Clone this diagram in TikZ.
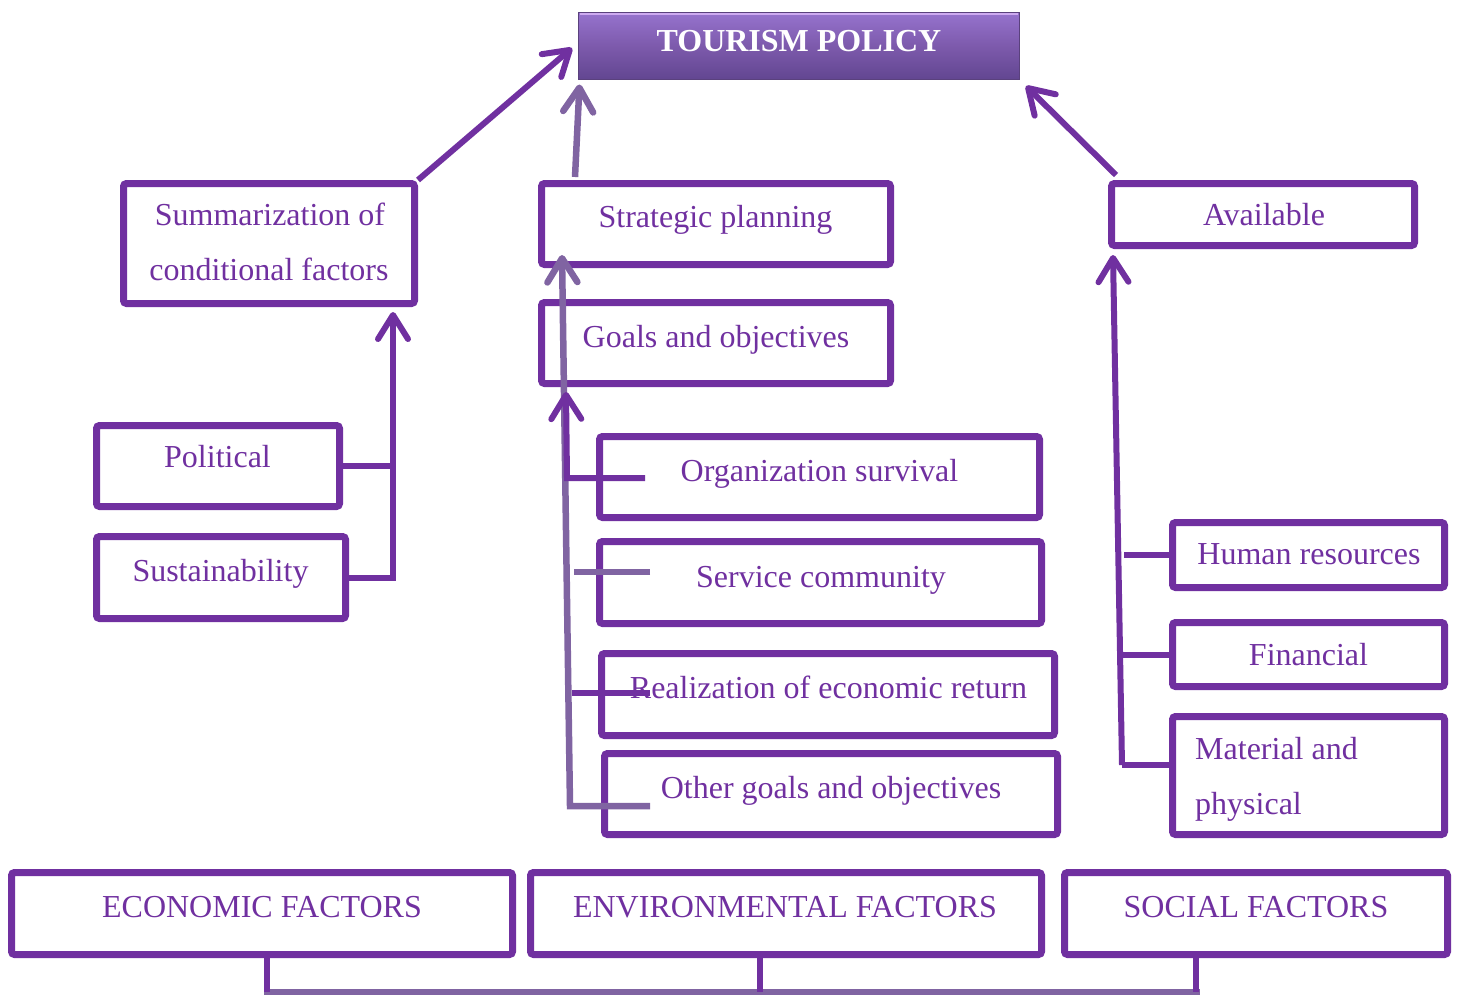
\documentclass[tikz,border=0pt]{standalone}
\usepackage{fontspec}
\setmainfont{Liberation Serif}
\usetikzlibrary{arrows.meta}
\definecolor{dpurp}{RGB}{112,48,160}
\definecolor{lav}{RGB}{128,100,162}
\definecolor{ttop}{RGB}{150,115,205}
\definecolor{tmid}{RGB}{125,90,172}
\definecolor{tbot}{RGB}{98,70,145}
\definecolor{tedge}{RGB}{90,65,125}
\definecolor{thi}{RGB}{205,170,240}
\begin{document}
\begin{tikzpicture}[x=1pt,y=-1pt,
  box/.style={draw=dpurp, line width=7pt, rounded corners=3pt, fill=white, inner sep=0pt},
  txt/.style={anchor=base, text=dpurp, font=\fontsize{32}{38}\selectfont, inner sep=0pt},
  darr/.style={draw=dpurp, line width=6pt, -{Straight Barb[length=24pt,width=30pt,round]}},
  larr/.style={draw=lav, line width=6.5pt, -{Straight Barb[length=24pt,width=30pt,round]}},
  dline/.style={draw=dpurp, line width=6pt},
  lline/.style={draw=lav, line width=6.5pt}]
\useasboundingbox (0,0) rectangle (1459,996);

% title
\node[draw=tedge, line width=1pt, top color=ttop, bottom color=tbot, middle color=tmid,
      minimum width=441pt, minimum height=67pt, inner sep=0pt] (tp) at (799,46) {};
\draw[thi, line width=2pt] ([xshift=2pt,yshift=-2pt]tp.north west) -- ([xshift=-2pt,yshift=-2pt]tp.north east);
\node[anchor=base, text=white, font=\fontsize{32}{38}\selectfont\bfseries, inner sep=0pt] (tpt) at (799,51) {TOURISM POLICY};

% boxes
\node[box, minimum width=291pt, minimum height=120pt] (sum) at (269,243.5) {};
\node[box, minimum width=349pt, minimum height=81pt] (sp) at (716,224) {};
\node[box, minimum width=349pt, minimum height=81pt] (go) at (716,343) {};
\node[box, minimum width=303pt, minimum height=62pt] (av) at (1263,214.5) {};
\node[box, minimum width=243pt, minimum height=81pt] (pol) at (218,466) {};
\node[box, minimum width=249pt, minimum height=82pt] (sus) at (221,577.5) {};
\node[box, minimum width=440pt, minimum height=81pt] (org) at (819.5,477) {};
\node[box, minimum width=442pt, minimum height=82pt] (ser) at (820.5,582.5) {};
\node[box, minimum width=453pt, minimum height=82pt] (rea) at (828,694.5) {};
\node[box, minimum width=453pt, minimum height=81pt] (oth) at (831,794) {};
\node[box, minimum width=272pt, minimum height=65pt] (hr) at (1308.5,555) {};
\node[box, minimum width=272pt, minimum height=64pt] (fin) at (1308.5,654.5) {};
\node[box, minimum width=272pt, minimum height=118pt] (mat) at (1308.5,775.5) {};
\node[box, minimum width=501pt, minimum height=82pt] (eco) at (262,913.5) {};
\node[box, minimum width=511pt, minimum height=82pt] (env) at (786,913.5) {};
\node[box, minimum width=383pt, minimum height=82pt] (soc) at (1256,913.5) {};

% texts
\node[txt] (sumt1) at (270,225) {Summarization of};
\node[txt] (sumt2) at (269,280) {conditional factors};
\node[txt] (spt) at (715.5,227) {Strategic planning};
\node[txt] (got) at (716,347) {Goals and objectives};
\node[txt] (avt) at (1264,225) {Available};
\node[txt] (polt) at (217.5,467) {Political};
\node[txt] (sust) at (220.5,581) {Sustainability};
\node[txt] (orgt) at (819.5,481) {Organization survival};
\node[txt] (sert) at (821,587) {Service community};
\node[txt] (reat) at (828.5,698) {Realization of economic return};
\node[txt] (otht) at (831,798) {Other goals and objectives};
\node[txt] (hrt) at (1309,564) {Human resources};
\node[txt] (fint) at (1308.5,665) {Financial};
\node[txt, anchor=base west] (matt1) at (1195,759) {Material and};
\node[txt, anchor=base west] (matt2) at (1195,814) {physical};
\node[txt] (ecot) at (262,917) {ECONOMIC FACTORS};
\node[txt] (envt) at (785,917) {ENVIRONMENTAL FACTORS};
\node[txt] (soct) at (1256,917) {SOCIAL FACTORS};

% junction coordinates
\coordinate (sumtip) at (393,312);
\coordinate (ltop) at (562,255);
\coordinate (lbot) at (570,806);
\coordinate (othin) at (650,806);
\coordinate (serin) at (650,572);
\coordinate (serj) at (574,572);
\coordinate (dtop) at (566,392);
\coordinate (orgin) at (645,478);
\coordinate (orgj) at (567,478);
\coordinate (reain) at (650,693);
\coordinate (reaj) at (572,693);
\coordinate (avtip) at (1113,255);
\coordinate (rbot) at (1122,765);
\coordinate (bl) at (264,992);
\coordinate (br) at (1200,992);

% top arrows
\draw[darr] (sum.north east) -- ([xshift=-6pt,yshift=-2pt]tp.west);
\draw[larr] ([xshift=37pt,yshift=3pt]sp.north west) -- ([xshift=1.5pt,yshift=-4.5pt]tp.south west);
\draw[darr] ([xshift=8pt,yshift=5pt]av.north west) -- ([xshift=6pt,yshift=-6pt]tp.south east);

% left
\draw[dline] (pol.east) -- (pol.east -| sumtip);
\draw[darr] (sus.east) -| (sumtip);

% middle
\draw[lline] (serin) -- (serj);
\draw[larr] (othin) -- (lbot) -- (ltop);
\draw[darr] (orgin) -- (orgj) -- (dtop);
\draw[dline] (reain) -- (reaj);

% right
\draw[darr] (rbot) -- (avtip);
\draw[dline] (hr.west) -- (hr.west -| 1124,0);
\draw[dline] (fin.west) -- (fin.west -| 1123,0);
\draw[dline] (mat.west |- rbot) -- (rbot);

% bottom
\draw[lline] (bl) -- (br);
\draw[dline] ([xshift=5pt,yshift=4pt]eco.south) -- ([xshift=5pt]eco.south |- bl);
\draw[dline] ([xshift=-26pt]env.south) -- ([xshift=-26pt]env.south |- br);
\draw[dline] ([xshift=-60pt]soc.south) -- ([xshift=-60pt]soc.south |- br);
\end{tikzpicture}
\end{document}
